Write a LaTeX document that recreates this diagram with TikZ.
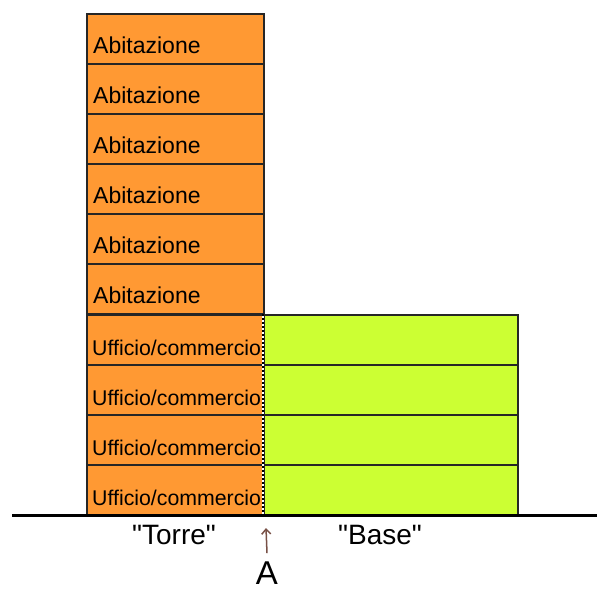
\documentclass[tikz,border=0pt]{standalone}
\usepackage{fontspec}
\setmainfont{Liberation Sans}[Ligatures=TeXOff]
\usetikzlibrary{arrows.meta,calc}
\definecolor{towerorange}{RGB}{255,153,51}
\definecolor{baselime}{RGB}{204,255,51}
\definecolor{arrowbrown}{RGB}{120,80,70}
\tikzset{
  floor/.style={draw=black!85, line width=2pt, anchor=north west, inner sep=0pt, minimum height=50pt},
  towerfloor/.style={floor, fill=towerorange, minimum width=177pt},
  basefloor/.style={floor, fill=baselime, minimum width=254pt},
  homelab/.style={anchor=base west, inner sep=0pt, font=\fontsize{23}{25}\selectfont},
  officelab/.style={anchor=base west, inner sep=0pt, font=\fontsize{21.3}{24}\selectfont},
  biglab/.style={anchor=base west, inner sep=0pt, font=\fontsize{28}{30}\selectfont},
  ground/.style={line width=3pt, black},
  arrowline/.style={line width=1.5pt, arrowbrown, -{Straight Barb[length=5pt,width=9pt]}}
}
\begin{document}
\begin{tikzpicture}[x=1pt,y=-1pt]
\useasboundingbox (0,0) rectangle (597,590);
% base floors
\foreach \i in {1,...,4}{
  \node[basefloor] (b\i) at (263,{314+50*(\i-1)}) {};
}
% tower floors: dwellings
\foreach \i in {1,...,6}{
  \node[towerfloor] (h\i) at (86,{13+50*(\i-1)}) {};
  \node[homelab] (hl\i) at ($(h\i.north west)+(7,40)$) {Abitazione};
}
% tower floors: offices
\foreach \i in {1,...,4}{
  \node[towerfloor] (o\i) at (86,{314+50*(\i-1)}) {};
  \node[officelab] (ol\i) at ($(o\i.north west)+(6,41)$) {Ufficio/commercio};
}
% dotted division line between tower and base
\coordinate (d1) at (263,314);
\coordinate (d2) at (263,514);
\draw[white, line width=2pt] (d1) -- (d2);
\draw[black, line width=2pt, dash pattern=on 2pt off 2pt] (d1) -- (d2);
% ground
\coordinate (g1) at (12,515);
\coordinate (g2) at (597,515);
\draw[ground] (g1) -- (g2);
% labels
\node[biglab] (torre) at (132,544) {"Torre"};
\node[biglab] (base) at (338,544) {"Base"};
\node[anchor=base, inner sep=0pt, font=\fontsize{33}{35}\selectfont] (A) at (267,584) {A};
\coordinate (atip) at (266,528);
\draw[arrowline] ([yshift=8pt]A.north) -- (atip);
\end{tikzpicture}
\end{document}
